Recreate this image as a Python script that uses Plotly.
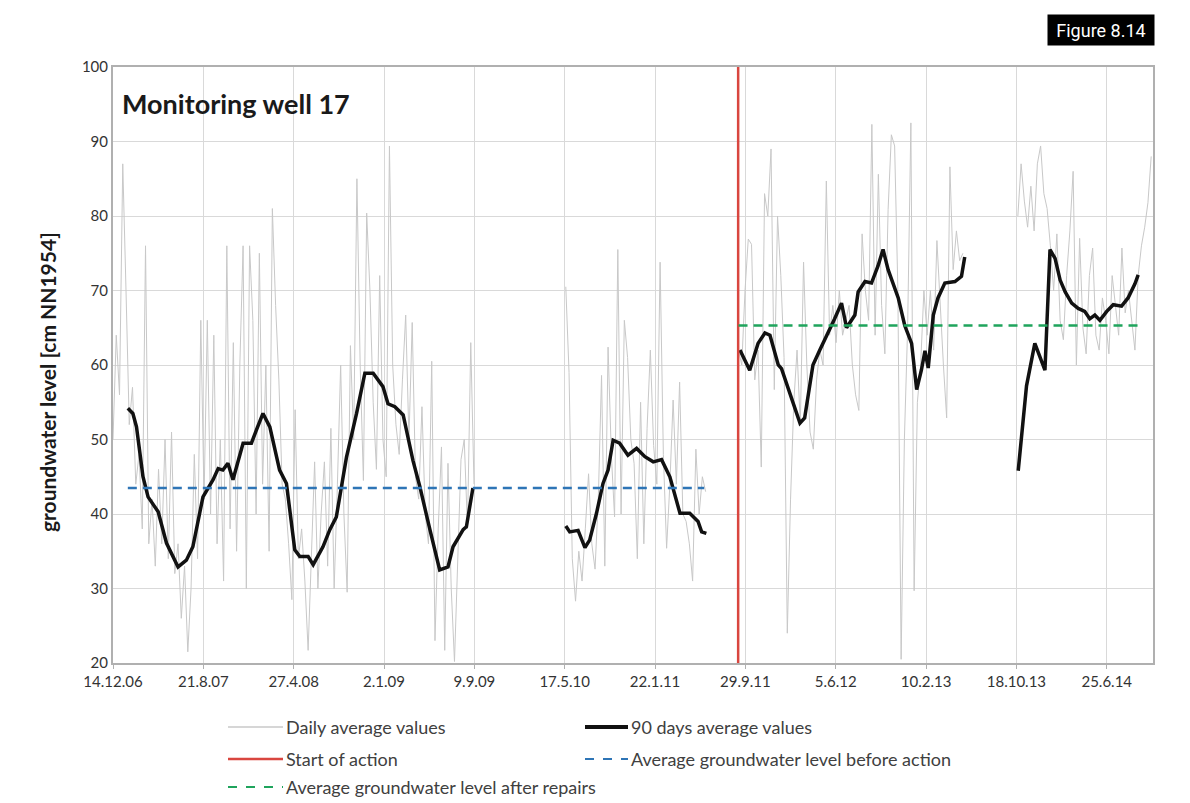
import pandas as pd
import plotly.graph_objects as go

BASE = pd.Timestamp("2006-12-14")

# x axis labels (every 250 days)
tick_labels = ["14.12.06", "21.8.07", "27.4.08", "2.1.09", "9.9.09", "17.5.10",
               "22.1.11", "29.9.11", "5.6.12", "10.2.13", "18.10.13", "25.6.14"]
x_end = "2014-10-31"

daily_step = "9D"
daily_start = ["2006-12-14", "2010-05-20", "2011-09-10", "2013-10-22"]
daily_a = [50, 64, 56, 87, 70, 52, 57, 44, 48, 38,
           76, 36, 42, 33, 46, 36, 50, 34, 51, 32,
           36, 26, 33, 21.5, 30, 48, 34, 66, 42, 66,
           40, 64, 36, 50, 31, 76, 38, 63, 35, 60,
           76, 30, 76, 66, 40, 75, 44, 60, 35, 81,
           68, 58, 44, 42, 36, 28.5, 54, 34, 38, 31,
           21.7, 36, 47, 30, 40, 47, 33, 51.5, 30, 44,
           60, 40, 29.5, 62.6, 50, 85, 60, 44.5, 80.4, 70,
           55, 46, 72, 50, 45, 89.4, 60, 52, 48, 58,
           66.7, 50, 65.7, 45, 42, 54.4, 40, 36, 60.5, 23,
           38, 49, 21.7, 46.8, 30, 20.2, 35, 47.3, 50, 38,
           63, 44]
daily_b = [70.5, 59, 34, 28.3, 35, 31, 38, 45.4, 36, 32.6,
           42, 58.6, 33, 62.4, 48, 39.6, 75.5, 40, 66, 61,
           50, 46.8, 34, 55, 36, 51.5, 62, 49.2, 44, 73.8,
           48, 35.4, 44, 55.3, 44, 57.7, 40, 39, 36, 31,
           48.7, 40, 45, 43]
daily_c = [62, 60, 70, 76.9, 76.2, 58, 62, 46.3, 83, 80,
           89, 56.7, 80, 72, 61, 24, 42, 55, 62, 52,
           73.8, 60, 51, 48.7, 58, 62, 60, 84.7, 64, 68,
           63, 70, 64, 66, 68, 60, 56, 53.9, 77.6, 70,
           66, 92.3, 64, 85.6, 68, 61.5, 80.9, 90.9, 89.4, 70,
           20.5, 50, 65, 92.5, 29.7, 55, 60, 70, 64, 70,
           62, 76.7, 68, 60, 52.9, 86.6, 72.8, 78, 74, 75]
daily_d = [80, 87, 82, 78.5, 84, 78, 87, 89.4, 83, 81,
           76, 70, 77.6, 66, 63.4, 72, 78, 86, 60, 77,
           65, 61.5, 72, 75.7, 64, 62, 69, 66, 61.5, 72,
           68, 64, 75.7, 67, 70, 66, 62, 72, 76, 78.5,
           81.8, 88]

# 90 days average, days after 14.12.06
avg1_days = [41, 55, 65, 74, 83, 97, 125, 148, 180, 203, 221, 249, 277, 291, 304, 318,
             332, 360, 383, 397, 415, 434, 461, 480, 503, 517, 540, 554, 581, 600, 618,
             646, 674, 697, 720, 747, 761, 780, 803, 830, 849, 877, 904, 927, 941, 969,
             978, 996]
avg1_vals = [54.2, 53.5, 51.7, 48.6, 45.0, 42.3, 40.3, 36.1, 32.9, 33.8, 35.6, 42.3, 44.6,
             46.1, 45.9, 46.8, 44.6, 49.5, 49.5, 51.3, 53.5, 51.7, 45.9, 44.1, 35.2, 34.3,
             34.3, 33.2, 35.6, 37.9, 39.6, 47.6, 53.5, 58.9, 58.9, 57.1, 54.8, 54.4, 53.3,
             47.2, 43.7, 37.9, 32.5, 32.9, 35.6, 37.9, 38.3, 43.5]
avg2_days = [1253, 1264, 1287, 1306, 1319, 1338, 1356, 1370, 1384, 1402, 1425, 1449, 1472,
             1495, 1518, 1541, 1569, 1596, 1619, 1629, 1642]
avg2_vals = [38.4, 37.6, 37.8, 35.5, 36.5, 40.1, 44.1, 45.9, 49.9, 49.5, 47.9, 48.8, 47.7,
             47.0, 47.3, 45.0, 40.1, 40.1, 39.0, 37.6, 37.4]
avg3_days = [1735, 1762, 1785, 1804, 1818, 1841, 1850, 1878, 1901, 1914, 1937, 1956, 1979,
             1997, 2016, 2030, 2053, 2062, 2081, 2099, 2117, 2131, 2145, 2164, 2173, 2191,
             2210, 2224, 2237, 2247, 2256, 2270, 2283, 2302, 2330, 2348, 2357]
avg3_vals = [62.0, 59.3, 62.9, 64.3, 64.0, 60.0, 59.5, 55.3, 52.2, 52.9, 60.0, 62.0, 64.3,
             66.2, 68.3, 65.0, 66.7, 69.8, 71.2, 71.0, 73.3, 75.5, 72.8, 70.0, 69.0, 65.3,
             62.9, 56.7, 59.3, 61.9, 59.6, 66.7, 69.0, 71.0, 71.2, 71.9, 74.5]
avg4_days = [2505, 2528, 2551, 2579, 2593, 2607, 2621, 2635, 2653, 2671, 2689, 2703, 2717,
             2731, 2750, 2768, 2791, 2809, 2828, 2837]
avg4_vals = [45.8, 57.2, 62.9, 59.3, 75.5, 74.3, 71.4, 69.8, 68.3, 67.6, 67.2, 66.2, 66.7,
             66.0, 67.2, 68.1, 67.9, 69.0, 70.9, 72.1]

start_action = "2011-09-09"
before_level = 43.5
before_span = ["2007-01-24", "2011-06-07"]
after_level = 65.3
after_span = ["2011-09-10", "2014-09-25"]

FONT = "Lato"
GRID = "#d9d9d9"


def join_segments(parts):
    # parts: list of (dates, values); a None row breaks the line between periods
    xs, ys = [], []
    for d, v in parts:
        xs += list(d) + [None]
        ys += list(v) + [None]
    return xs, ys


daily_parts = []
for start, vals in zip(daily_start, [daily_a, daily_b, daily_c, daily_d]):
    daily_parts.append((pd.date_range(start, periods=len(vals), freq=daily_step), vals))
dx, dy = join_segments(daily_parts)

avg_parts = []
for days, vals in [(avg1_days, avg1_vals), (avg2_days, avg2_vals),
                   (avg3_days, avg3_vals), (avg4_days, avg4_vals)]:
    avg_parts.append((BASE + pd.to_timedelta(days, unit="D"), vals))
ax_, ay_ = join_segments(avg_parts)

fig = go.Figure()
fig.add_trace(go.Scatter(x=dx, y=dy, mode="lines", name="Daily average values",
                         line=dict(color="#c8c8c8", width=1), connectgaps=False))
fig.add_trace(go.Scatter(x=ax_, y=ay_, mode="lines", name="90 days average values",
                         line=dict(color="#111111", width=3.5), connectgaps=False))
fig.add_trace(go.Scatter(x=[start_action, start_action], y=[20, 100], mode="lines",
                         name="Start of action", line=dict(color="#d9463f", width=2.5)))
fig.add_trace(go.Scatter(x=before_span, y=[before_level] * 2, mode="lines",
                         name="Average groundwater level before action",
                         line=dict(color="#2e75b6", width=2.5, dash="9px,6px")))
fig.add_trace(go.Scatter(x=after_span, y=[after_level] * 2, mode="lines",
                         name="Average groundwater level after repairs",
                         line=dict(color="#1fa45c", width=2.5, dash="9px,6px")))

# page has an 8px body margin, so the figure is drawn 8px smaller
OFF = 8
W, H = 1190 - OFF, 803 - OFF
# plot area in page pixels: x 113..1153, y 67..663
L, R, T, B = 113, 1153, 67, 663


def px(x):
    return (x - L) / (R - L)


def py(y):
    return (B - y) / (B - T)


# manual legend below the chart
legend_items = [
    ("Daily average values", dict(color="#c8c8c8", width=1.5), 228, 283, 727),
    ("90 days average values", dict(color="#111111", width=4), 585, 628, 727),
    ("Start of action", dict(color="#d9463f", width=2.5), 228, 283, 759),
    ("Average groundwater level before action",
     dict(color="#2e75b6", width=2, dash="dash"), 585, 628, 759),
    ("Average groundwater level after repairs",
     dict(color="#1fa45c", width=2, dash="dash"), 228, 283, 787),
]
for text, ln, x0, x1, y in legend_items:
    fig.add_shape(type="line", xref="paper", yref="paper", x0=px(x0), x1=px(x1),
                  y0=py(y), y1=py(y), line=ln)
    fig.add_annotation(text=text, xref="paper", yref="paper", x=px(x1 + 1), y=py(y),
                       xanchor="left", yanchor="middle", showarrow=False,
                       font=dict(family=FONT, size=18, color="#404040"))

fig.add_annotation(text="<b>Monitoring well 17</b>", xref="paper", yref="paper",
                   x=px(120), y=py(103), xanchor="left", yanchor="middle", showarrow=False,
                   font=dict(family=FONT, size=27, color="#1a1a1a"))
fig.add_annotation(text="<b>groundwater level [cm NN1954]</b>", xref="paper", yref="paper",
                   x=px(47), y=py(382), textangle=-90, xanchor="center", yanchor="middle",
                   showarrow=False, font=dict(family=FONT, size=21, color="#1a1a1a"))
fig.add_annotation(text="Figure 8.14", xref="paper", yref="paper",
                   x=px(1155), y=py(30), xanchor="right", yanchor="middle", showarrow=False,
                   width=100, height=24, bgcolor="black", borderpad=3,
                   font=dict(family="Roboto", size=18, color="white"))

tick_vals = pd.to_datetime(tick_labels, format="%d.%m.%y")

fig.update_xaxes(type="date", range=[BASE, x_end], tickvals=tick_vals, ticktext=tick_labels,
                 showgrid=True, gridcolor=GRID, gridwidth=1, showline=True, mirror=True,
                 linecolor="#b0b0b0", linewidth=2, ticks="outside", ticklen=4,
                 tickcolor="#b0b0b0", zeroline=False,
                 tickfont=dict(family=FONT, size=15, color="#333333"))
fig.update_yaxes(range=[20, 100], dtick=10, showgrid=True, gridcolor=GRID, gridwidth=1,
                 showline=True, mirror=True, linecolor="#b0b0b0", linewidth=2,
                 ticks="", zeroline=False,
                 tickfont=dict(family=FONT, size=15, color="#333333"))
fig.update_layout(width=W, height=H, showlegend=False,
                  margin=dict(l=L - OFF, r=W - (R - OFF), t=T - OFF, b=H - (B - OFF)),
                  plot_bgcolor="white", paper_bgcolor="white")

fig.write_html("out.html")
